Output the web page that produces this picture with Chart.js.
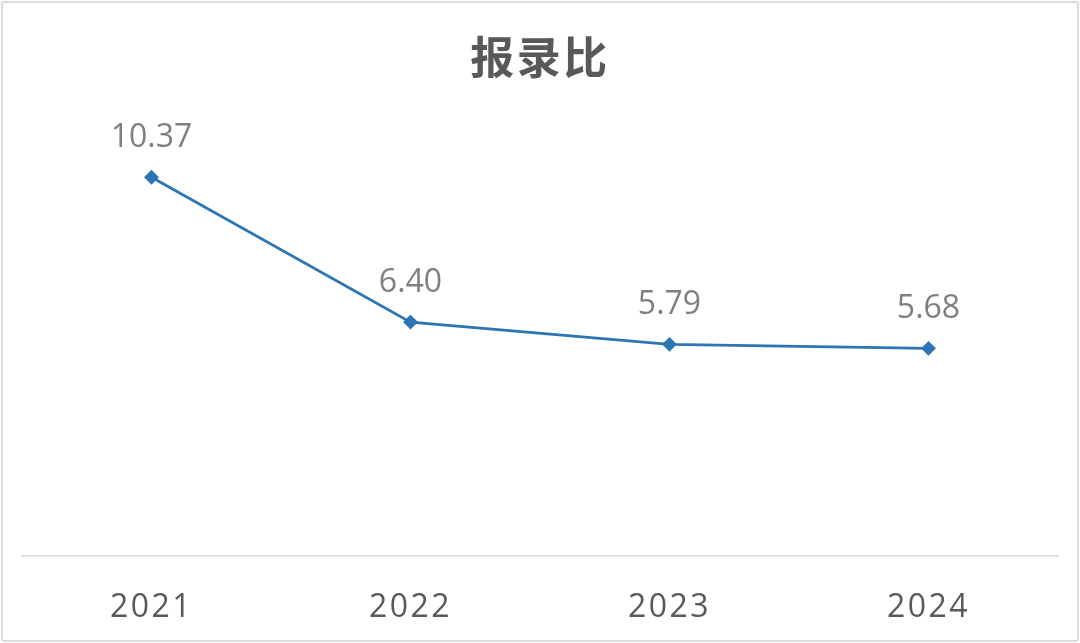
<!DOCTYPE html>
<html>
<head>
<meta charset="utf-8">
<script src="https://cdn.jsdelivr.net/npm/chart.js@4/dist/chart.umd.min.js"></script>
<style>
  body { margin: 0; background: #fff; }
  #wrap { position: relative; width: 1080px; height: 643px; }
  #frame { position: absolute; left: 1px; top: 1px; width: 1074px; height: 637px;
    border: 2px solid #dcdcdc; border-radius: 3px; pointer-events: none; }
</style>
</head>
<body>
<div id="wrap">
  <canvas id="chart" width="1080" height="643"></canvas>
  <div id="frame"></div>
</div>
<script>
const years = ["2021", "2022", "2023", "2024"];
const ratio = [10.37, 6.40, 5.79, 5.68];
const yMin = 0;
const yMax = 12;

// labels above each point
const pointLabels = {
  id: 'pointLabels',
  beforeDraw(chart) {
    chart.ctx.letterSpacing = '2.5px';
  },
  afterDatasetsDraw(chart) {
    const ctx = chart.ctx;
    const meta = chart.getDatasetMeta(0);
    ctx.save();
    ctx.letterSpacing = '0px';
    ctx.font = '32px "Open Sans", "Noto Sans", sans-serif';
    ctx.fillStyle = '#7f7f7f';
    ctx.textAlign = 'center';
    ctx.textBaseline = 'middle';
    meta.data.forEach((pt, i) => {
      ctx.fillText(ratio[i].toFixed(2), pt.x, pt.y - 39);
    });
    ctx.restore();
  }
};

new Chart(document.getElementById("chart"), {
  type: 'line',
  data: {
    labels: years,
    datasets: [{
      data: ratio,
      borderColor: '#2e75b6',
      borderWidth: 2.8,
      tension: 0,
      pointStyle: 'rectRot',
      pointRadius: 5.5,
      pointBackgroundColor: '#2e75b6',
      pointBorderColor: '#2e75b6',
      clip: false
    }]
  },
  options: {
    responsive: false,
    animation: false,
    layout: { padding: { left: 22, right: 22, top: 0, bottom: -17 } },
    plugins: {
      legend: { display: false },
      tooltip: { enabled: false },
      title: {
        display: true,
        text: '报录比',
        color: '#595959',
        font: { family: '"Noto Sans CJK SC", sans-serif', size: 44, weight: 'bold', lineHeight: 1.2 },
        padding: { top: 31, bottom: 34 }
      }
    },
    scales: {
      x: {
        offset: true,
        grid: { display: false, drawTicks: false, offset: true },
        border: { display: true, color: '#d9d9d9', width: 1.5 },
        ticks: {
          color: '#595959',
          maxRotation: 0,
          autoSkip: false,
          font: { family: '"Open Sans", "Noto Sans", sans-serif', size: 32, lineHeight: 1.2 },
          padding: 33
        }
      },
      y: {
        display: false,
        min: yMin,
        max: yMax
      }
    }
  },
  plugins: [pointLabels]
});
</script>
</body>
</html>
